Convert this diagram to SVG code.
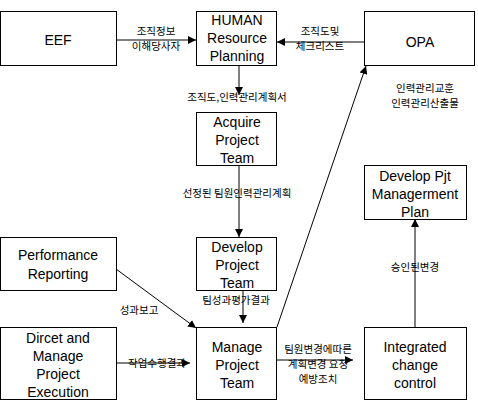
<svg xmlns="http://www.w3.org/2000/svg" width="478" height="416" viewBox="0 0 478 416">
<style>
.box{fill:#fff;stroke:#000;stroke-width:1}
.bt{font-family:"Liberation Sans","Noto Sans CJK KR",sans-serif;font-size:14px;fill:#000;text-anchor:middle}
.lb{font-family:"Noto Sans CJK KR","Liberation Sans",sans-serif;font-size:10.5px;fill:#000;text-anchor:middle}
.ln{stroke:#000;stroke-width:1;fill:none}
</style>
<defs>
<marker id="ah" viewBox="0 0 10 10" refX="10" refY="5" markerWidth="8" markerHeight="8" markerUnits="userSpaceOnUse" orient="auto">
<path d="M0,0 L10,5 L0,10 z" fill="#000"/>
</marker>
</defs>
<rect width="478" height="416" fill="#fff"/>
<g id="connectors">
<line class="ln" x1="116" y1="40" x2="196" y2="40" marker-end="url(#ah)"/>
<line class="ln" x1="364" y1="42" x2="277" y2="42" marker-end="url(#ah)"/>
<line class="ln" x1="239" y1="66" x2="239" y2="95" marker-end="url(#ah)"/>
<line class="ln" x1="239" y1="165" x2="239" y2="237" marker-end="url(#ah)"/>
<line class="ln" x1="243" y1="290" x2="243" y2="323" marker-end="url(#ah)"/>
<line class="ln" x1="116" y1="269" x2="196" y2="328" marker-end="url(#ah)"/>
<line class="ln" x1="116" y1="363" x2="190" y2="363" marker-end="url(#ah)"/>
<line class="ln" x1="277" y1="360" x2="353" y2="360" marker-end="url(#ah)"/>
<line class="ln" x1="415" y1="327" x2="415" y2="219" marker-end="url(#ah)"/>
<line class="ln" x1="277" y1="327" x2="366" y2="66" marker-end="url(#ah)"/>
<text class="lb" x="156" y="35">조직정보</text>
<text class="lb" x="156" y="50">이해당사자</text>
<text class="lb" x="320" y="35">조직도및</text>
<text class="lb" x="320" y="50">체크리스트</text>
<text class="lb" x="237" y="101">조직도,인력관리계획서</text>
<text class="lb" x="237" y="197">선정된 팀원인력관리계획</text>
<text class="lb" x="236" y="304">팀성과평가결과</text>
<text class="lb" x="139" y="314">성과보고</text>
<text class="lb" x="157" y="367">작업수행결과</text>
<text class="lb" x="318" y="353">팀원변경에따른</text>
<text class="lb" x="318" y="368">계획변경 요청</text>
<text class="lb" x="318" y="383">예방조치</text>
<text class="lb" x="415" y="271">승인된변경</text>
<text class="lb" x="425" y="92">인력관리교훈</text>
<text class="lb" x="425" y="107">인력관리산출물</text>
</g>
<g id="eef">
<rect class="box" x="0.5" y="11.5" width="116" height="54"/>
<text class="bt" x="58" y="45">EEF</text>
</g>
<g id="human">
<rect class="box" x="196.5" y="11.5" width="80" height="54"/>
<text class="bt" x="237" y="25">HUMAN</text>
<text class="bt" x="237" y="43">Resource</text>
<text class="bt" x="237" y="61">Planning</text>
</g>
<g id="opa">
<rect class="box" x="364.5" y="11.5" width="110" height="54"/>
<text class="bt" x="420" y="47">OPA</text>
</g>
<g id="acquire">
<rect class="box" x="196.5" y="112.5" width="80" height="53"/>
<text class="bt" x="237" y="127">Acquire</text>
<text class="bt" x="237" y="145">Project</text>
<text class="bt" x="237" y="163">Team</text>
</g>
<g id="develop-team">
<rect class="box" x="196.5" y="237.5" width="80" height="53"/>
<text class="bt" x="237" y="252">Develop</text>
<text class="bt" x="237" y="270">Project</text>
<text class="bt" x="237" y="288">Team</text>
</g>
<g id="develop-plan">
<rect class="box" x="364.5" y="165.5" width="102" height="54"/>
<text class="bt" x="415" y="181">Develop Pjt</text>
<text class="bt" x="415" y="199">Managerment</text>
<text class="bt" x="415" y="217">Plan</text>
</g>
<g id="performance">
<rect class="box" x="0.5" y="237.5" width="116" height="53"/>
<text class="bt" x="58" y="260">Performance</text>
<text class="bt" x="58" y="279">Reporting</text>
</g>
<g id="direct">
<rect class="box" x="0.5" y="327.5" width="116" height="72"/>
<text class="bt" x="58" y="343">Dircet and</text>
<text class="bt" x="58" y="361">Manage</text>
<text class="bt" x="58" y="379">Project</text>
<text class="bt" x="58" y="397">Execution</text>
</g>
<g id="manage">
<rect class="box" x="196.5" y="327.5" width="80" height="72"/>
<text class="bt" x="237" y="352">Manage</text>
<text class="bt" x="237" y="370">Project</text>
<text class="bt" x="237" y="388">Team</text>
</g>
<g id="integrated">
<rect class="box" x="364.5" y="327.5" width="102" height="72"/>
<text class="bt" x="415" y="352">Integrated</text>
<text class="bt" x="415" y="370">change</text>
<text class="bt" x="415" y="388">control</text>
</g>
</svg>
